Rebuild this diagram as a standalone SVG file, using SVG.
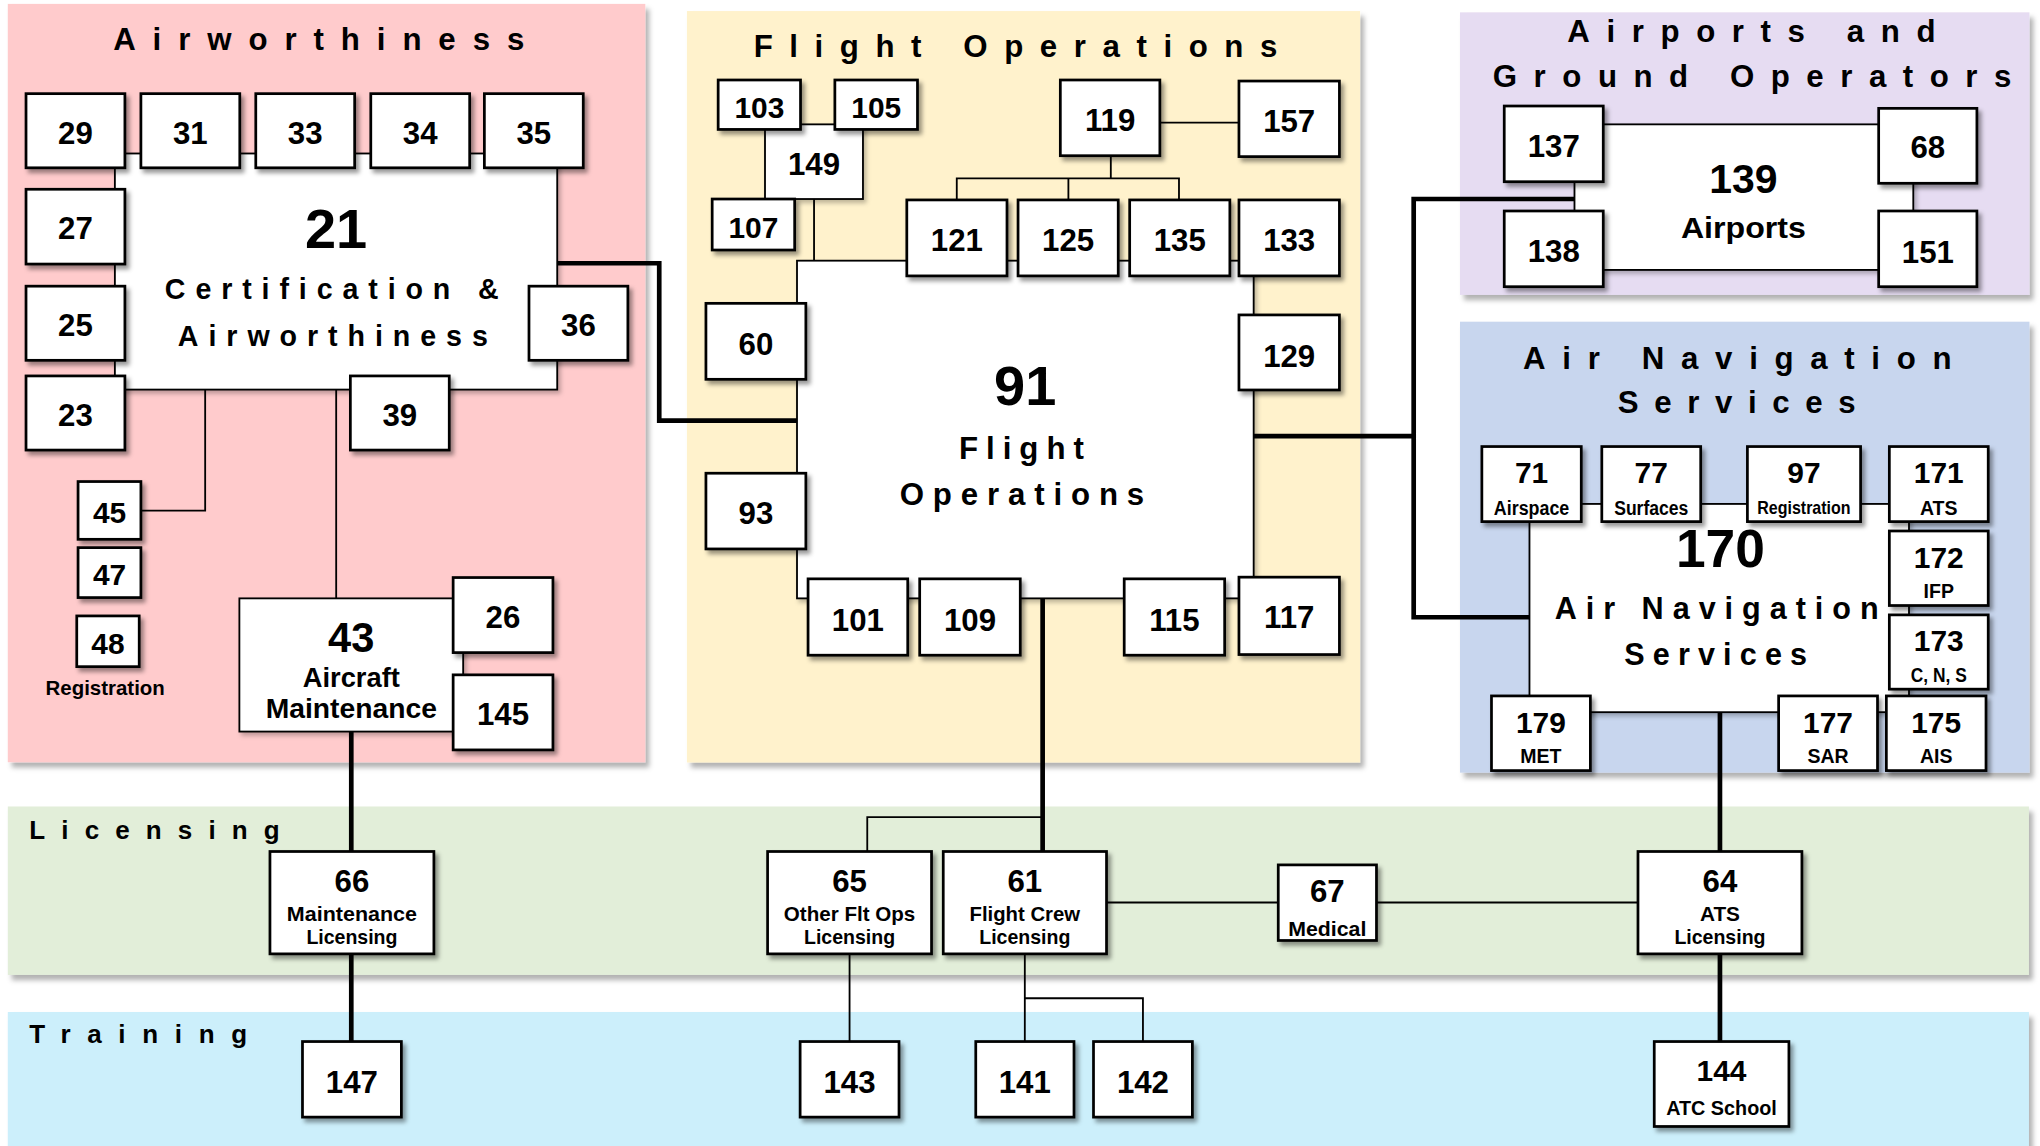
<svg xmlns="http://www.w3.org/2000/svg" width="2040" height="1146" viewBox="0 0 2040 1146">
<defs>
<style>
text{font-family:"Liberation Sans",Arial,sans-serif;font-weight:bold;fill:#000}
.n{font-size:24px;text-anchor:middle}
.m{font-size:23px;text-anchor:middle}
.s{font-size:16px;text-anchor:middle}
.x{font-size:15px;text-anchor:middle}
.h{font-size:24px}
.h2{font-size:20px}
.b{fill:#fff;stroke:#000;stroke-width:2.1;filter:url(#sh)}
.c{fill:#fff;stroke:#000;stroke-width:1.4;filter:url(#sh2)}
.p{filter:url(#psh)}
.thin{fill:none;stroke:#000;stroke-width:1.4}
.thick{fill:none;stroke:#000;stroke-width:3.6}
</style>
<filter id="sh" x="-20%" y="-20%" width="150%" height="150%"><feDropShadow dx="2.5" dy="3" stdDeviation="1.6" flood-color="#000" flood-opacity="0.4"/></filter>
<filter id="sh2" x="-10%" y="-10%" width="130%" height="130%"><feDropShadow dx="2" dy="2.5" stdDeviation="1.5" flood-color="#000" flood-opacity="0.25"/></filter>
<filter id="psh" x="-5%" y="-5%" width="115%" height="115%"><feDropShadow dx="3" dy="4" stdDeviation="2" flood-color="#000" flood-opacity="0.3"/></filter>
</defs>
<g transform="scale(1.30102 1.30079)">
<g id="panels">
<rect class="p" x="6" y="3" width="490" height="583" fill="#FFCBCC"/>
<rect class="p" x="528" y="8.5" width="517.4" height="577.7" fill="#FFF2CC"/>
<rect class="p" x="1122.2" y="9.5" width="437.7" height="217.2" fill="#E6DCF2"/>
<rect class="p" x="1122.2" y="247.3" width="437.7" height="346.7" fill="#C8D6EE"/>
<rect class="p" x="6" y="620" width="1553.5" height="129.5" fill="#E2EED9"/>
<rect class="p" x="6" y="778" width="1553.5" height="106" fill="#CCEFFB"/>
<text class="h" x="87" y="38.5" textLength="316" lengthAdjust="spacing">Airworthiness</text>
<text class="h" x="579.3" y="44" textLength="402.5" lengthAdjust="spacing">Flight Operations</text>
<text class="h" x="1204.7" y="32" textLength="283" lengthAdjust="spacing">Airports and</text>
<text class="h" x="1147.4" y="67.1" textLength="398.6" lengthAdjust="spacing">Ground Operators</text>
<text class="h" x="1170.7" y="283.9" textLength="329.3" lengthAdjust="spacing">Air Navigation</text>
<text class="h" x="1243.5" y="317.7" textLength="182.8" lengthAdjust="spacing">Services</text>
<text class="h2" x="22.5" y="645" textLength="192.5" lengthAdjust="spacing">Licensing</text>
<text class="h2" x="22.5" y="802" textLength="167.5" lengthAdjust="spacing">Training</text>
</g>
<g id="connectors">
<path class="thin" d="M157.7 299.5V392.5H108.3M258.4 299.5V460M625.7 153V200.4M891.5 94.3H952.3M853.8 119.7V137.1M735.4 153.7V137.1H906.2V153.7M821.2 137.1V153.7M666.6 654.6V628.2H801.4M850.5 693.8H982.5M1058 693.8H1259M653 733.3V800.7M787.7 733.3V800.7M787.7 767.4H878.5V800.7"/>
<path class="thick" d="M428.3 202.4H506.7V323.3H612.6M963.6 335.3H1086.6M1210.2 153H1086.6V474.5H1175.6M801.4 460V654.6M270 562.4V654.6M270 733.3V800.7M1322 547.5V654.6M1322 733.3V800.7"/>
</g>
<g id="n21"><rect class="c" x="88.3" y="118" width="340" height="181.5"/><text x="258.3" y="191" style="font-size:43px;text-anchor:middle">21</text><text x="126.7" y="230" style="font-size:22px" textLength="256.6" lengthAdjust="spacing">Certification &amp;</text><text x="136.7" y="266" style="font-size:22px" textLength="238.3" lengthAdjust="spacing">Airworthiness</text></g>
<g id="n29"><rect class="b" x="20" y="72" width="76" height="57"/><text class="n" x="58" y="110.5">29</text></g>
<g id="n31"><rect class="b" x="108.3" y="72" width="76" height="57"/><text class="n" x="146.3" y="110.5">31</text></g>
<g id="n33"><rect class="b" x="196.6" y="72" width="76" height="57"/><text class="n" x="234.6" y="110.5">33</text></g>
<g id="n34"><rect class="b" x="285" y="72" width="76" height="57"/><text class="n" x="323" y="110.5">34</text></g>
<g id="n35"><rect class="b" x="372.3" y="72" width="76" height="57"/><text class="n" x="410.3" y="110.5">35</text></g>
<g id="n27"><rect class="b" x="20" y="145.5" width="76" height="57.5"/><text class="n" x="58" y="184">27</text></g>
<g id="n25"><rect class="b" x="20" y="220" width="76" height="57"/><text class="n" x="58" y="258.5">25</text></g>
<g id="n23"><rect class="b" x="20" y="289" width="76" height="57"/><text class="n" x="58" y="327.5">23</text></g>
<g id="n36"><rect class="b" x="406.6" y="220" width="76" height="57"/><text class="n" x="444.6" y="258.5">36</text></g>
<g id="n39"><rect class="b" x="269.3" y="289" width="76" height="57"/><text class="n" x="307.3" y="327.5">39</text></g>
<g id="n45"><rect class="b" x="60" y="370.2" width="48.3" height="44.4"/><text class="m" x="84.2" y="402.2">45</text></g>
<g id="n47"><rect class="b" x="60" y="421" width="48.3" height="38.4"/><text class="m" x="84.2" y="449.6">47</text></g>
<g id="n48"><rect class="b" x="59" y="473.5" width="48" height="39"/><text class="m" x="83" y="502.7">48</text><text x="35" y="534" style="font-size:16px" textLength="91.7" lengthAdjust="spacingAndGlyphs">Registration</text></g>
<g id="n43"><rect class="c" x="184" y="460" width="172" height="102.4"/><text x="270" y="501" style="font-size:32px;text-anchor:middle">43</text><text x="270" y="528.3" style="font-size:21px;text-anchor:middle">Aircraft</text><text x="204.2" y="552" style="font-size:21px" textLength="131.7" lengthAdjust="spacingAndGlyphs">Maintenance</text></g>
<g id="n26"><rect class="b" x="348.3" y="444" width="76.7" height="57.7"/><text class="n" x="386.6" y="483">26</text></g>
<g id="n145"><rect class="b" x="348.3" y="518.8" width="76.7" height="57.7"/><text class="n" x="386.6" y="557.3">145</text></g>
<g id="n91"><rect class="c" x="612.6" y="200.4" width="351" height="259.6"/><text x="788" y="311.3" style="font-size:43px;text-anchor:middle">91</text><text x="737.1" y="352.8" style="font-size:24px" textLength="96" lengthAdjust="spacing">Flight</text><text x="691.5" y="388.2" style="font-size:24px" textLength="188" lengthAdjust="spacing">Operations</text></g>
<g id="n149"><rect class="c" x="588" y="95.6" width="75.3" height="57.4"/><text class="n" x="625.7" y="134.5">149</text></g>
<g id="n103"><rect class="b" x="552" y="61.5" width="63.3" height="38"/><text class="m" x="583.7" y="90.8">103</text></g>
<g id="n105"><rect class="b" x="641.7" y="61.5" width="63.5" height="38"/><text class="m" x="673.5" y="90.8">105</text></g>
<g id="n107"><rect class="b" x="547.4" y="153" width="63.4" height="39.2"/><text class="m" x="579.1" y="183.2">107</text></g>
<g id="n119"><rect class="b" x="815" y="61.5" width="76.5" height="58.2"/><text class="n" x="853.3" y="100.4">119</text></g>
<g id="n157"><rect class="b" x="952.3" y="62.3" width="77.2" height="58.1"/><text class="n" x="990.9" y="101.2">157</text></g>
<g id="n121"><rect class="b" x="697" y="153.7" width="77" height="58.4"/><text class="n" x="735.5" y="192.7">121</text></g>
<g id="n125"><rect class="b" x="782.5" y="153.7" width="77" height="58.4"/><text class="n" x="821" y="192.7">125</text></g>
<g id="n135"><rect class="b" x="868.3" y="153.7" width="77" height="58.4"/><text class="n" x="906.8" y="192.7">135</text></g>
<g id="n133"><rect class="b" x="952.3" y="153.7" width="77.2" height="58.4"/><text class="n" x="990.9" y="192.7">133</text></g>
<g id="n60"><rect class="b" x="542.6" y="233.2" width="76.8" height="58.4"/><text class="n" x="581" y="272.9">60</text></g>
<g id="n129"><rect class="b" x="952.3" y="242.1" width="77.2" height="57.7"/><text class="n" x="990.9" y="281.8">129</text></g>
<g id="n93"><rect class="b" x="542.6" y="363.8" width="76.8" height="58.2"/><text class="n" x="581" y="402.8">93</text></g>
<g id="n101"><rect class="b" x="621.1" y="445" width="76.6" height="58.7"/><text class="n" x="659.4" y="484.8">101</text></g>
<g id="n109"><rect class="b" x="706.9" y="445" width="77.3" height="58.7"/><text class="n" x="745.6" y="484.8">109</text></g>
<g id="n115"><rect class="b" x="864.1" y="445" width="77.2" height="58.7"/><text class="n" x="902.7" y="484.8">115</text></g>
<g id="n117"><rect class="b" x="952.3" y="443.7" width="77.2" height="59.5"/><text class="n" x="990.9" y="483">117</text></g>
<g id="n139"><rect class="c" x="1210.2" y="95.6" width="260.4" height="111.9"/><text x="1340" y="148.1" style="font-size:31.5px;text-anchor:middle">139</text><text x="1292" y="183.2" style="font-size:22.5px" textLength="96" lengthAdjust="spacingAndGlyphs">Airports</text></g>
<g id="n137"><rect class="b" x="1156.2" y="81.5" width="76.1" height="58.2"/><text class="n" x="1194.3" y="120.4">137</text></g>
<g id="n68"><rect class="b" x="1444" y="83.3" width="75.5" height="57.6"/><text class="n" x="1481.8" y="121.7">68</text></g>
<g id="n138"><rect class="b" x="1156.2" y="162.2" width="76.1" height="58.2"/><text class="n" x="1194.3" y="201.1">138</text></g>
<g id="n151"><rect class="b" x="1444" y="162.2" width="75.5" height="58.2"/><text class="n" x="1481.8" y="202.4">151</text></g>
<g id="n170"><rect class="c" x="1175.6" y="387.4" width="291.7" height="160.1"/><text x="1322.4" y="435.6" style="font-size:41px;text-anchor:middle">170</text><text x="1195" y="476.1" style="font-size:23.5px" textLength="249" lengthAdjust="spacing">Air Navigation</text><text x="1248.4" y="511.2" style="font-size:23.5px" textLength="140.6" lengthAdjust="spacing">Services</text></g>
<g id="n71"><rect class="b" x="1139" y="343.3" width="76.4" height="57.7"/><text class="m" x="1177.2" y="371.5">71</text><text x="1148.2" y="395.9" style="font-size:15px" textLength="58" lengthAdjust="spacingAndGlyphs">Airspace</text></g>
<g id="n77"><rect class="b" x="1231.2" y="343.3" width="76" height="57.7"/><text class="m" x="1269.2" y="371.5">77</text><text x="1240.7" y="395.9" style="font-size:15px" textLength="57" lengthAdjust="spacingAndGlyphs">Surfaces</text></g>
<g id="n97"><rect class="b" x="1343.1" y="343.3" width="87" height="57.7"/><text class="m" x="1386.6" y="371.5">97</text><text x="1350.7" y="395.3" style="font-size:13.5px" textLength="71.7" lengthAdjust="spacingAndGlyphs">Registration</text></g>
<g id="n171"><rect class="b" x="1452.2" y="343.3" width="76" height="57.7"/><text class="m" x="1490.2" y="371.5">171</text><text class="x" x="1490.2" y="395.9">ATS</text></g>
<g id="n172"><rect class="b" x="1452.2" y="408.2" width="76" height="57.3"/><text class="m" x="1490.2" y="436.9">172</text><text class="x" x="1490.2" y="459.9">IFP</text></g>
<g id="n173"><rect class="b" x="1452.2" y="472.7" width="76" height="57.1"/><text class="m" x="1490.2" y="500.1">173</text><text x="1468.7" y="524" style="font-size:15px" textLength="43" lengthAdjust="spacingAndGlyphs">C, N, S</text></g>
<g id="n175"><rect class="b" x="1449.9" y="535" width="76.6" height="57.4"/><text class="m" x="1488.2" y="563.2">175</text><text class="x" x="1488.2" y="586.7">AIS</text></g>
<g id="n177"><rect class="b" x="1367.1" y="535" width="76" height="57.4"/><text class="m" x="1405.1" y="563.2">177</text><text class="x" x="1405.1" y="586.7">SAR</text></g>
<g id="n179"><rect class="b" x="1146.4" y="535" width="76" height="57.4"/><text class="m" x="1184.4" y="563.2">179</text><text class="x" x="1184.4" y="586.7">MET</text></g>
<g id="n66"><rect class="b" x="207.5" y="654.6" width="126" height="78.7"/><text class="n" x="270.5" y="686">66</text><text x="220.5" y="708.4" style="font-size:16px" textLength="100" lengthAdjust="spacingAndGlyphs">Maintenance</text><text x="235.5" y="726" style="font-size:16px" textLength="70" lengthAdjust="spacingAndGlyphs">Licensing</text></g>
<g id="n65"><rect class="b" x="590" y="654.6" width="126" height="78.7"/><text class="n" x="653" y="686">65</text><text x="602.5" y="708.4" style="font-size:16px" textLength="101" lengthAdjust="spacingAndGlyphs">Other Flt Ops</text><text x="618" y="726" style="font-size:16px" textLength="70" lengthAdjust="spacingAndGlyphs">Licensing</text></g>
<g id="n61"><rect class="b" x="725" y="654.6" width="125.5" height="78.7"/><text class="n" x="787.7" y="686">61</text><text x="745.2" y="708.4" style="font-size:16px" textLength="85" lengthAdjust="spacingAndGlyphs">Flight Crew</text><text x="752.7" y="726" style="font-size:16px" textLength="70" lengthAdjust="spacingAndGlyphs">Licensing</text></g>
<g id="n67"><rect class="b" x="982.5" y="664.9" width="75.5" height="58.1"/><text class="n" x="1020.2" y="693.8">67</text><text x="990.2" y="719.5" style="font-size:16px" textLength="60" lengthAdjust="spacingAndGlyphs">Medical</text></g>
<g id="n64"><rect class="b" x="1259" y="654.6" width="126" height="78.7"/><text class="n" x="1322" y="686">64</text><text class="s" x="1322" y="707.7">ATS</text><text x="1287" y="726" style="font-size:16px" textLength="70" lengthAdjust="spacingAndGlyphs">Licensing</text></g>
<g id="n147"><rect class="b" x="232.5" y="800.7" width="76" height="58.1"/><text class="n" x="270.5" y="840.4">147</text></g>
<g id="n143"><rect class="b" x="615" y="800.7" width="76" height="58.1"/><text class="n" x="653" y="840.4">143</text></g>
<g id="n141"><rect class="b" x="750" y="800.7" width="75.5" height="58.1"/><text class="n" x="787.7" y="840.4">141</text></g>
<g id="n142"><rect class="b" x="840.5" y="800.7" width="76" height="58.1"/><text class="n" x="878.5" y="840.4">142</text></g>
<g id="n144"><rect class="b" x="1271.5" y="800.7" width="103.5" height="65.3"/><text class="m" x="1323.2" y="831.4">144</text><text x="1280.7" y="857" style="font-size:16px" textLength="85" lengthAdjust="spacingAndGlyphs">ATC School</text></g>
</g>
</svg>
